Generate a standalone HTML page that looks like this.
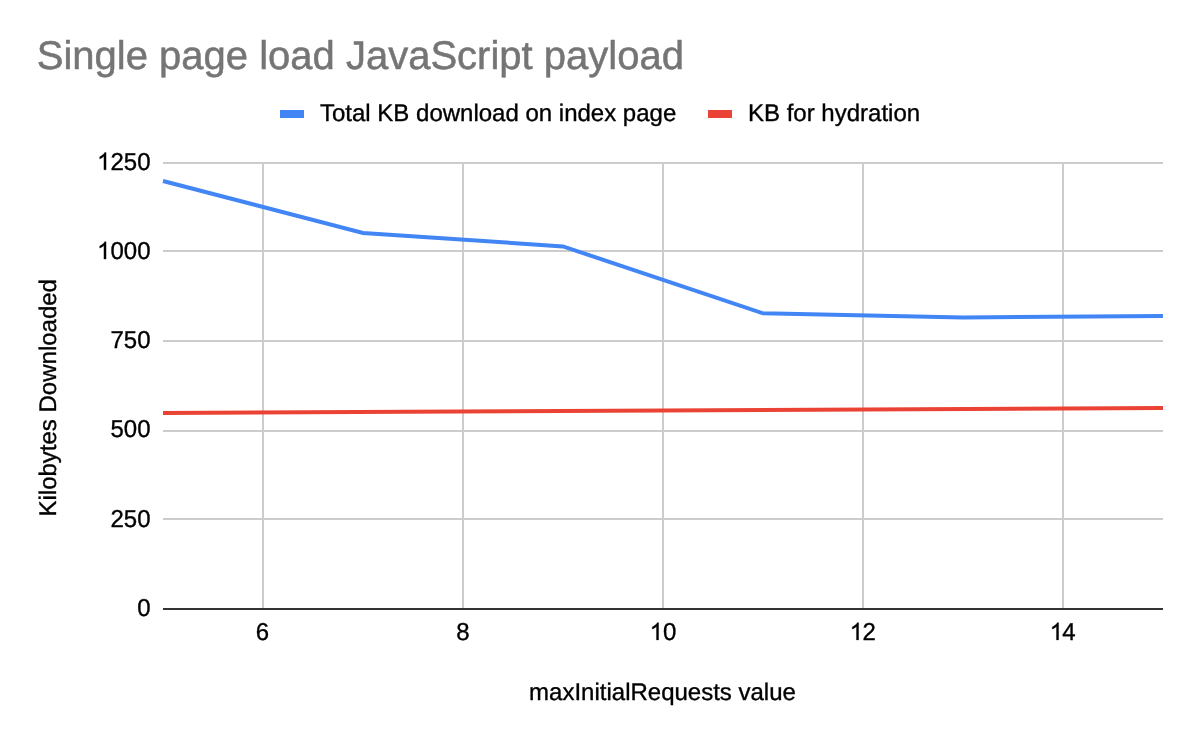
<!DOCTYPE html>
<html>
<head>
<meta charset="utf-8">
<title>Single page load JavaScript payload</title>
<style>
  html, body { margin: 0; padding: 0; background: #ffffff; }
  body { width: 1200px; height: 742px; overflow: hidden; font-family: "Liberation Sans", sans-serif; }
  svg { display: block; will-change: transform; }
  text { font-family: "Liberation Sans", sans-serif; text-rendering: geometricPrecision; }
</style>
</head>
<body>
<svg width="1200" height="742" viewBox="0 0 1200 742">
  <rect x="0" y="0" width="1200" height="742" fill="#ffffff"/>

  <!-- title -->
  <text x="36.8" y="68.7" font-size="40" fill="#757575" stroke="#757575" stroke-width="0.5">Single page load JavaScript payload</text>

  <!-- legend -->
  <rect x="280" y="110" width="24" height="8" fill="#4285f4"/>
  <text x="320" y="121" font-size="24" fill="#000000" stroke="#000000" stroke-width="0.35">Total KB download on index page</text>
  <rect x="708" y="110" width="24" height="8" fill="#ea4335"/>
  <text x="748" y="121" font-size="24" fill="#000000" stroke="#000000" stroke-width="0.35">KB for hydration</text>

  <!-- horizontal gridlines -->
  <g fill="#cccccc">
    <rect x="163" y="162" width="1000" height="2"/>
    <rect x="163" y="250" width="1000" height="2"/>
    <rect x="163" y="340" width="1000" height="2"/>
    <rect x="163" y="430" width="1000" height="2"/>
    <rect x="163" y="518" width="1000" height="2"/>
    <!-- vertical gridlines -->
    <rect x="262" y="162" width="2" height="446"/>
    <rect x="462" y="162" width="2" height="446"/>
    <rect x="662" y="162" width="2" height="446"/>
    <rect x="862" y="162" width="2" height="446"/>
    <rect x="1062" y="162" width="2" height="446"/>
  </g>
  <!-- baseline -->
  <rect x="163" y="608" width="1000" height="2" fill="#333333"/>

  <!-- series -->
  <polyline fill="none" stroke="#4285f4" stroke-width="4"
    points="163,181 363,232.9 563,246.4 763,313.3 963,317.5 1163,316"/>
  <polyline fill="none" stroke="#ea4335" stroke-width="4"
    points="163,412.9 1163,408.05"/>

  <!-- y axis labels -->
  <g font-size="24" fill="#000000" stroke="#000000" stroke-width="0.35" text-anchor="end">
    <path transform="translate(97.11,169.8) scale(0.01171875,-0.01171875)" d="M763 0H583V1147Q518 1085 412.5 1023T223 930V1104Q374 1175 487 1276T647 1472H763Z" stroke-width="29.9"/>
    <text transform="translate(150.5,169.8) scale(1,1.02)">250</text>
    <path transform="translate(97.11,259.0) scale(0.01171875,-0.01171875)" d="M763 0H583V1147Q518 1085 412.5 1023T223 930V1104Q374 1175 487 1276T647 1472H763Z" stroke-width="29.9"/>
    <text transform="translate(150.5,259.0) scale(1,1.02)">000</text>
    <text transform="translate(150.5,348.1) scale(1,1.02)">750</text>
    <text transform="translate(150.5,437.4) scale(1,1.02)">500</text>
    <text transform="translate(150.5,526.6) scale(1,1.02)">250</text>
    <text transform="translate(150.5,615.75) scale(1,1.02)">0</text>
  </g>

  <!-- x axis labels -->
  <g font-size="24" fill="#000000" stroke="#000000" stroke-width="0.35" text-anchor="start">
    <text transform="translate(255.83,639.9) scale(1,1.02)">6</text>
    <text transform="translate(456.33,639.9) scale(1,1.02)">8</text>
    <path transform="translate(649.65,639.9) scale(0.01171875,-0.01171875)" d="M763 0H583V1147Q518 1085 412.5 1023T223 930V1104Q374 1175 487 1276T647 1472H763Z" stroke-width="29.9"/>
    <text transform="translate(663.00,639.9) scale(1,1.02)">0</text>
    <path transform="translate(849.65,639.9) scale(0.01171875,-0.01171875)" d="M763 0H583V1147Q518 1085 412.5 1023T223 930V1104Q374 1175 487 1276T647 1472H763Z" stroke-width="29.9"/>
    <text transform="translate(862.40,639.9) scale(1,1.02)">2</text>
    <path transform="translate(1049.65,639.9) scale(0.01171875,-0.01171875)" d="M763 0H583V1147Q518 1085 412.5 1023T223 930V1104Q374 1175 487 1276T647 1472H763Z" stroke-width="29.9"/>
    <text transform="translate(1062.30,639.9) scale(1,1.02)">4</text>
  </g>

  <!-- axis titles -->
  <text x="662.5" y="699.75" font-size="24" fill="#000000" stroke="#000000" stroke-width="0.35" text-anchor="middle">maxInitialRequests value</text>
  <text transform="translate(56,397.8) rotate(-90)" font-size="24" fill="#000000" stroke="#000000" stroke-width="0.35" text-anchor="middle">Kilobytes Downloaded</text>
</svg>
</body>
</html>
